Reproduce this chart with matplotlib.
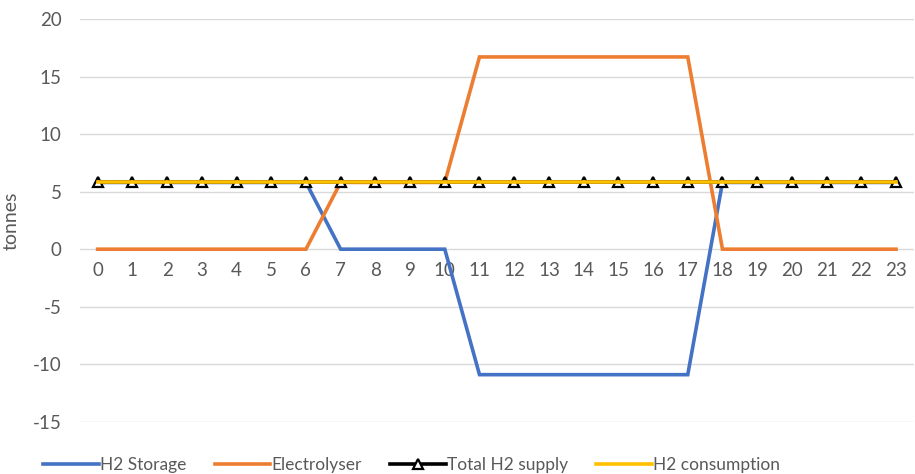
import matplotlib
matplotlib.use("Agg")
import matplotlib.pyplot as plt
from matplotlib.lines import Line2D

plt.rcParams['font.family'] = ['Lato', 'DejaVu Sans']
plt.rcParams['axes.unicode_minus'] = False

hours = list(range(24))
h2_storage = [5.8] * 7 + [0.0] * 4 + [-10.9] * 7 + [5.8] * 6
electrolyser = [0.0] * 7 + [5.8] * 4 + [16.7] * 7 + [0.0] * 6
total_supply = [5.8] * 24
consumption = [5.8] * 24
y_ticks = [-15, -10, -5, 0, 5, 10, 15, 20]

text_col = '#595959'
fig = plt.figure(figsize=(9.15, 4.74), dpi=100)
ax = fig.add_axes([0.087, 0.11, 0.912, 0.85])

ax.plot(hours, h2_storage, color='#4472C4', lw=2.6, solid_joinstyle='miter', zorder=3)
ax.plot(hours, electrolyser, color='#ED7D31', lw=2.6, solid_joinstyle='miter', zorder=3)
ax.plot(hours, total_supply, color='black', lw=2.6, marker='^', ms=7,
        mfc='white', mec='black', mew=1.6, zorder=4)
ax.plot(hours, consumption, color='#FFC000', lw=2.6, zorder=5)

ax.set_xlim(-0.52, 23.52)
ax.set_ylim(-15, 20)
ax.set_yticks(y_ticks)
ax.set_xticks(hours)
ax.set_xticklabels([str(h) for h in hours])
ax.yaxis.grid(True, color='#D9D9D9', lw=1.0, zorder=0)
ax.set_axisbelow(True)
for s in ax.spines.values():
    s.set_visible(False)
ax.spines['bottom'].set_position(('data', 0))
ax.tick_params(axis='both', length=0, labelsize=13.5, colors=text_col)
ax.tick_params(axis='x', pad=9)
ax.tick_params(axis='y', pad=13)
ax.set_ylabel('tonnes', fontsize=14, color=text_col)
ax.yaxis.set_label_coords(-0.072, 0.5)

handles = [
    Line2D([], [], color='#4472C4', lw=2.6),
    Line2D([], [], color='#ED7D31', lw=2.6),
    Line2D([], [], color='black', lw=2.6, marker='^', ms=7, mfc='white', mec='black', mew=1.6),
    Line2D([], [], color='#FFC000', lw=2.6),
]
labels = ['H2 Storage', 'Electrolyser', 'Total H2 supply', 'H2 consumption']
leg = fig.legend(handles, labels, loc='lower center', bbox_to_anchor=(0.45, -0.03), ncol=4,
                 frameon=False, fontsize=12.5, handlelength=3.2, handletextpad=0.1,
                 columnspacing=1.6)
for t in leg.get_texts():
    t.set_color(text_col)

fig.savefig('out.png', dpi=100)
